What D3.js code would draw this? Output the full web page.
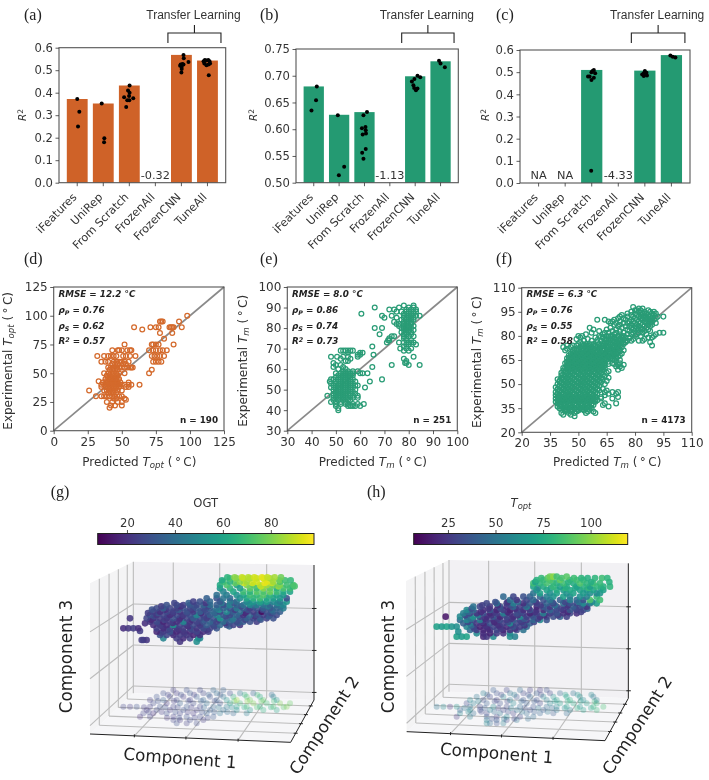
<!DOCTYPE html>
<html><head><meta charset="utf-8"><style>
html,body{margin:0;padding:0;background:#fff}
svg{display:block;filter:blur(.35px)}
text{font-family:"DejaVu Sans",sans-serif;fill:#333}
</style><script src="https://cdn.jsdelivr.net/npm/d3@7"></script></head><body><svg id="c" width="709" height="780"></svg>
<script>
const categories=["iFeatures","UniRep","From Scratch","FrozenAll","FrozenCNN","TuneAll"];
const barsA=[.372,.352,.432,null,.568,.543], barsB=[.68,.627,.632,null,.699,.727], barsC=[null,null,.51,null,.507,.577];
const ticksA=[0,.1,.2,.3,.4,.5,.6], ticksB=[.5,.55,.6,.65,.7,.75];
// [category, jitter in band steps, R2]
const dotsA=[[0,0,.372],[0,.08,.315],[0,.03,.25],[1,-.06,.352],[1,.04,.198],[1,.03,.18],[2,.01,.432],[2,-.05,.41],[2,.01,.40],[2,-.01,.385],[2,-.2,.38],[2,.15,.375],[2,-.08,.367],[2,0,.367],[2,-.12,.336],
[4,.08,.568],[4,.09,.553],[4,.27,.537],[4,.04,.528],[4,-.05,.52],[4,.08,.525],[4,.01,.515],[4,.01,.505],[4,0,.49],[4,-.03,.525],
[5,-.15,.54],[5,-.1,.545],[5,-.05,.543],[5,.03,.545],[5,.08,.54],[5,-.12,.53],[5,-.04,.522],[5,.04,.525],[5,.1,.53],[5,.05,.478]];
const dotsB=[[0,.12,.68],[0,.09,.654],[0,-.09,.635],[1,-.05,.626],[1,.2,.53],[1,-.01,.514],[2,.1,.632],[2,-.04,.626],[2,.04,.604],[2,-.1,.602],[2,.05,.598],[2,.06,.592],[2,-.07,.59],[2,.05,.563],[2,-.09,.556],[2,-.04,.545],
[4,.09,.70],[4,.2,.697],[4,-.03,.694],[4,-.13,.689],[4,-.07,.682],[4,-.04,.677],[4,.09,.676],[4,.03,.673],[5,-.06,.728],[5,0,.723],[5,.17,.716]];
const dotsC=[[2,.08,.51],[2,-.01,.50],[2,.13,.495],[2,.03,.505],[2,-.14,.48],[2,-.08,.48],[2,.08,.475],[2,-.01,.465],[2,-.02,.055],
[4,0,.505],[4,-.04,.495],[4,-.1,.49],[4,.03,.49],[4,.08,.485],[4,-.04,.483],[4,.06,.497],[5,-.04,.575],[5,.05,.57],[5,.15,.566]];
// Scatter rows: [experimental, [predicted...]]
const rowsD=[[100,[98]],[95,[78,79,80,92]],[90,[59,71,75,77,85,86,87,88,94]],[88,[65]],[85,[78,87]],[80,[81]],[75,[52,72,73,75,77,88]],[70,[43,47,48,50,54,56,57,70,73,75,78,80,83]],[65,[32,37,40,42,44,46,51,53,56,60,72,74,76,78,81]],[60,[35,38,40,44,46,48,50,52,55,73,75,77,79]],[58,[43,45,47,51,53]],[55,[40,42,44,46,48,50,52,54,56,57,58]],[53,[72,41,43,45,47]],[50,[37,40,42,44,46,48,52,70]],[48,[39,41,43,45,47]],[45,[38,40,41,42,43,44,45,46,47,48]],[43,[33,38,40,42,44,46]],[42,[36,39,41,43,45,47,49,55]],[40,[35,37,39,40,41,42,43,44,45,46,47,48,50,52,55,57,63]],[38,[35,38,40,42,44,46,48,53,55]],[35,[26,37,39,41,43,45,47,50]],[33,[40,42,44,46]],[30,[31,35,37,39,41,43,45,48,50]],[28,[52,44,46]],[27,[53]],[25,[39,43,47,50]],[22,[42,45,50]],[20,[41]]];
const rowsE=[[91,[78,82]],[90,[66,76,80,82]],[89,[72,74,79,81,83]],[88,[75,77,79,80,82,83]],[87,[60.5,78,79,81,82]],[86,[69,73,78,80,81,83,84.5]],[85,[70,75,78,79,80,81,82]],[84,[77,79,80,81,82]],[83,[74,78,79,80,81]],[82,[75,76,78,79,81]],[81,[76,78,80,82]],[80,[66,69,77,78,79,80,81]],[79,[78,79,80,82]],[78,[77,79,80,81]],[77,[68,78,79,81]],[76,[73,74,78,80,82]],[75,[72,78,79]],[74,[71.5,72,79,81]],[73,[71,76,78,80,81,82]],[72,[79,80,83]],[71,[65,78]],[70,[76.5,79,81]],[69,[52,53,54,55,56,57,78,80]],[68,[55,60,61]],[67,[59,60,65.5]],[66,[48,50.5,53,55,59,82]],[65,[52,56,78]],[64,[54,55,79]],[63,[49,78.5,79]],[62,[50,52,73,80,84.5]],[61,[49,53,65]],[60,[51,54]],[59,[53,55,57,59]],[58,[50,52,53,54,55,56,57,60,61,63]],[57,[51,53,54,55,57]],[56,[50,52,53,54,55,56]],[55,[48,49,51,52,53,54,55,56,57,69]],[54,[47.5,50,52,53,54,55,56,58,64]],[53,[48,50,51,52,53,54,55,56,57]],[52,[49,50,51,52,53,54,55,56,58,59]],[51,[48,50,51,52,53,54,55,56,57,62]],[50,[49,50,51,52,53,54,55,56,58]],[49,[50,51,52,53,54,55,57]],[48,[49,50,51,52,53,54,55,56,58]],[47,[46.5,49,50,51,52,53,54,56,57,59]],[46,[49,50,52,53,54,55,57,59]],[45,[49,51,53,55,56]],[44,[48,50,52,54]],[43,[50,52,54,55,57,59,61.5]],[42,[50,55,56,57,58,60]],[41,[51]],[40,[51]]];
const rowsF=[[98,[79]],[97,[82,84]],[96,[80,81,83,87]],[95,[78,82,85,88,90]],[94,[76,80,84,86,89,91]],[93,[73,78,81,83,85,87,90]],[92,[72,76,79,82,84,86,88,92,95]],[91,[71,74,80,83,85,87,89,91]],[90,[60,64,69,75,78,81,84,86,88,90]],[89,[66,68,72,77,79,82,85,87,89]],[88,[67,70,74,76,80,83,86,88,91]],[87,[69,72,78,81,84,87,89]],[86,[71,75,77,80,82,85,88]],[85,[56,67,73,78,81,83,86]],[84,[58,65,70,76,79,82,84,87]],[83,[61,68,72,77,80,85,88]],[82,[57,64,66,70,74,79,82,84,93,95]],[81,[54,63,69,72,76,78,81,86,91]],[80,[50,52,61,65,67,71,74,80,83,90]],[79,[51,59,63,69,73,75,77,87,89]],[78,[49,55,65,67,70,72,74,79,85]],[77,[53,57,62,68,71,76,78,82,84]],[76,[51,60,64,66,69,73,75,88]],[75,[50,52,54,56,58,61,67,71,74]],[74,[44,47,49,53,55,59,63,65,69,72,89]],[73,[42,46,51,57,60,62,66,68,70,73]],[72,[44,48,50,52,54,56,58,61,64,67,71]],[71,[43,47,49,53,55,57,59,60,63,65,69,72,74]],
[70,[47,50,53,56,59,62,65,68,71]],[69,[46,49,52,55,58,61,64,67,70,73]],[68,[45,48,51,54,57,60,63,66,69,72]],[67,[47,50,53,56,59,62,65,68,71]],[66,[44,46,49,52,55,58,61,64,67,70]],[65,[45,48,51,54,57,60,63,69,72]],[64,[44,47,50,53,56,59,62,66,70]],[63,[43,46,49,52,55,58,61,64,68,72]],[62,[45,48,51,54,57,60,63,71,74]],[61,[44,47,50,53,56,59,62,70,72]],[60,[42,43,46,49,52,55,58,61,64,73]],[59,[45,48,51,54,57,60,63,71]],[58,[43,46,49,52,55,58,61,66]],[57,[41,44,47,50,53,56,59,62,65]],[56,[42,45,48,51,54,57,60,63]],[55,[43,46,49,52,55,58,61,64]],[54,[41,44,47,50,53,56,59,62,66]],[53,[39,42,45,48,51,54,57,60,63]],[52,[40,43,46,49,52,55,58,61,65]],[51,[41,44,47,50,53,56,59,62]],[50,[39,42,45,48,51,54,57,60,64]],[49,[40,43,46,49,52,55,58,61]],[48,[38,41,44,47,50,53,56,59]],[47,[39,42,45,48,51,54,57,60,63]],[46,[40,43,46,49,52,55,58,61,65]],[45,[38,41,44,47,50,53,56,59,64,68,71]],[44,[39,42,45,48,51,54,57,60,66,70]],[43,[38,40,43,46,49,52,55,58,64]],[42,[39,41,44,47,50,53,56,59,62,71]],[41,[38,40,43,46,49,52,55,58,62,68]],[40,[39,42,45,48,51,54,57,60]],[39,[38,41,44,47,50,53,56,59]],[38,[39,42,45,48,51,54,57,64,70]],[37,[40,43,46,49,52,55,58,63]],[36,[39,41,44,47,50,53,56,66]],[35,[40,42,45,48,51,54,57]],[34,[41,44,47,50,53,56]],[33,[43,46,49,55,58]],[32,[41,45,48,54,59]],[31,[42,46]],[30,[48]]];
const rowsFdense=[[79.5,[62,66,68,71,73]],[77.5,[60,64,66,69,72,74]],[75.5,[63,65,68,70,72]],[73.5,[52,54,56,58,61,64,67,69,71]],[71.5,[50,52,54,56,58,61,63,66,68,70]],[69.5,[48,51,54,57,60,63,66,69,71]],[68.5,[47,50,53,56,59,62,65,68,70]],[67.5,[46,49,52,55,58,61,64,67,70]],[66.5,[45,48,51,54,57,60,63,66]],[65.5,[47,50,53,56,59,62,65,68]],[64.5,[46,49,52,55,58,61,64]],[63.5,[45,48,51,54,57,60,63]],[62.5,[44,47,50,53,56,59,62,66,69]],[61.5,[46,49,52,55,58,61,64]],[60.5,[45,48,51,54,57,60,63]],[59.5,[44,47,50,53,56,59,62]],[58.5,[42,45,48,51,54,57,60,63]],[57.5,[43,46,49,52,55,58,61]],[56.5,[44,47,50,53,56,59,62]],[55.5,[41,45,48,51,54,57,60]],[54.5,[43,46,49,52,55,58,61]],[53.5,[41,44,47,50,53,56,59,62]],[52.5,[42,45,48,51,54,57,60]],[51.5,[40,43,46,49,52,55,58,61]],[50.5,[41,44,47,50,53,56,59]],[49.5,[42,45,48,51,54,57,60]],[48.5,[40,43,46,49,52,55,58]],[47.5,[41,44,47,50,53,56,59]],[46.5,[39,42,45,48,51,54,57,60]],[45.5,[40,43,46,49,52,55,58]],[44.5,[41,44,47,50,53,56,59]],[43.5,[42,45,48,51,54,57]],[42.5,[40,43,46,49,52,55,58]],[41.5,[42,45,48,51,54,57]],[40.5,[41,44,47,50,53,56,59]],[39.5,[40,43,46,49,52,55,58]],[38.5,[41,44,47,50,53,56]],[37.5,[42,45,48,51,54,57]],[36.5,[41,43,46,49,52,55]],[35.5,[42,44,47,50,53,56]],[34.5,[43,46,49,52,55]],[33.5,[44,47,50,53]]];
const statsD=["12.2","0.76","0.62","0.57","190"], statsE=["8.0","0.86","0.74","0.73","251"], statsF=["6.3","0.76","0.55","0.58","4173"];
const ticksD=[0,25,50,75,100,125], ticksE=[30,40,50,60,70,80,90,100], ticksF=[20,35,50,65,80,95,110];
const ticksG=[20,40,60,80], ticksH=[25,50,75,100];
// 3-D embedding, projected view: [component 3, [component 1, colour value, ...]]
const cloudG=[[60.5,[60,72,62,80,64,88,66,86,68,90,70,92,72,85]],[59.5,[58,70,60,65,63,82,65,85,68,92,71,94,73,85,75,72]],[58.5,[57,62,59,72,62,60,65,80,67,75,69,88,71,85,73,78,75,80,77,70,79,72]],[57.5,[57,55,60,66,63,58,66,76,68,70,70,82,72,76,74,66,76,72,78,70]],[56.5,[58,48,61,60,64,70,66,66,68,75,70,72,72,78,74,70,76,62,78,60]],[55.5,[56,40,59,45,62,52,64,60,66,70,68,68,70,74,72,66,74,60,76,55]],[54.5,[53,35,56,30,58,42,60,38,63,52,65,62,67,66,69,70,71,62,73,58,75,56,77,30]],[53.5,[49,25,51,30,54,38,57,32,60,45,62,40,65,50,67,55,69,60,71,58,73,50,75,45,77,55]],[52.5,[41,30,44,28,46,25,48,32,50,28,52,36,54,40,56,34,58,30,60,48,62,36,64,42,66,50,68,46,70,42,72,38,74,40,76,50]],[51.5,[38,28,40,35,42,26,44,24,46,30,48,26,50,32,52,28,54,35,56,42,58,36,60,30,62,45,64,34,66,25,68,30,70,35,72,32,74,36,76,45]],[50.5,[37,24,39,20,41,28,43,25,45,22,47,30,49,24,51,35,53,30,55,38,57,28,59,50,61,35,63,40,65,20,67,24,69.5,10,71,30,73,35,75,34]],[49.5,[36,30,38,22,40,26,42,20,44,28,46,24,48,30,50,50,52,26,54,34,56,48,58,32,60,28,62,36,64,22,66,38,68,28,70,25,72,32,74,28]],[48.5,[35,26,37,20,39,24,41,22,43,30,45,20,47,26,49,34,51,28,53,24,55,30,57,55,59,36,61,44,63,30,65,35,67,28,69,34,71,26,73,30]],[47.5,[36,22,38,28,40,18,42,24,44,20,46,50,48,22,50,26,52,30,54,36,56,26,58,40,60,32,62,28,64,34,66,30,68,24]],[46.5,[37,20,39,24,41,20,43,55,45,26,47,22,49,28,51,24,53,34,55,28,57,38,59,30,61,26,63,22]],[45.5,[38,25,40,20,42,28,44,22,46,24,48,28,50,22,52,28,54,26,56,32]],[44.5,[38,18,40,24,42,30,44,18,46,22,48,20,50,26,52,20,53.5,24]],[43.5,[39,30,41,26,43,20,45,24,47,22,49,18,51,22]],[42.5,[40,48,44,24,46,20,48,26,50.5,55,51,50]],[41.5,[45,22,50,52]],
[48.5,[30,22]],[45.5,[28,20,29.5,22,31,24,32.5,20]],[44.7,[33,24]],[47,[34.5,20]],[42,[34,25,35,22,33.5,24]],
[60.8,[59.2,66,61.4,82,63.6,90,65.5,88,67.3,92,69.6,94,71.2,90,73.4,86,75.3,78]],[59.9,[74.8,78,76.5,70,78.2,68,57.6,62]],[59.1,[61.5,76,64.2,90,66.7,92,70.4,95,72.5,90]],[58.1,[78.8,66,79.4,72,74.5,84,69.3,90]],
[53.1,[43.3,26,47.6,34,52.7,22,57.4,45,61.2,30,65.6,55,69.3,48,74.4,52]],[52.1,[39.4,24,45.2,20,49.3,30,53.5,26,59.1,40,63.3,28,67.2,34,71.4,44,75.2,42]],[51.1,[36.6,30,40.7,20,44.5,35,48.8,22,52.6,28,56.7,52,61.5,24,65.4,30,69.8,26,72.6,40]],[50.1,[35.4,24,38.5,30,42.9,22,47.2,26,51.3,20,55.6,34,60.2,28,64.4,18,68.5,32,72.3,26]],[49.1,[37.2,28,41.3,24,45.6,20,49.7,32,53.4,24,58.8,26,62.7,30,67.4,22,71.5,34]],[48.1,[36.3,18,40.4,26,44.7,22,48.4,20,52.2,34,56.5,24,60.7,40,64.6,26,69.2,30]],[47.1,[38.6,24,42.8,20,46.3,28,50.6,22,54.8,30,58.6,22,62.5,34]],[46.1,[39.7,22,43.4,24,47.5,20,51.4,28,55.3,26,59.8,36]],[45.1,[41.2,24,44.6,20,48.7,26,53.1,22]],[44.1,[39.3,26,42.6,22,46.4,24,50.3,20]]];
const shadowG=[[27,[43,25,47,30,51,28,55,38,58,35]],[26,[40,30,44,24,48,32,52,28,56,40,60,30,63,45,67,38]],[25,[38,30,42,26,46,22,50,34,54,30,58,42,61,66,65,72,69,62,73,50]],[24,[36,24,40,35,44,28,48,24,52,36,56,34,59,55,62,85,66,78,70,75,74,55]],[23,[37,28,41,22,45,35,49,28,53,40,57,30,60,60,63,70,67,80,71,70,75,80,78,76]],[22,[28,26,30,24,32,30,36,24,39,30,43,26,47,32,51,26,55,36,59,45,62,58,65,70,69,66,73,72,77,80]],[21,[35,22,38,28,42,24,46,30,50,25,54,34,58,40,62,52,66,55,70,65,74,60]],[20,[34,26,37,20,41,30,45,26,49,22,53,35,57,42,61,38,65,45]],[19,[33,20,36,25,43,24,47,30,51,28,55,32]],[18,[43,26,45,22,48,28,52,24]],[17,[44,30,47,25,50,28]],
[25.6,[41.4,26,45.3,30,49.2,24,53.6,35,57.1,32,64.4,66,68.2,70,72.5,40]],[23.7,[38.4,30,43.2,24,47.5,30,51.3,34,55.4,28,61.3,74,65.2,82,69.4,76,73.2,70]],[21.8,[34.2,24,40.6,30,44.3,28,48.4,24,52.2,38,56.6,44,60.5,50,64.3,62,68.1,72,72.3,64,76.1,74]],[20.4,[35.6,28,39.5,24,43.6,30,47.3,24,51.6,30,55.3,34,59.2,40]],[18.7,[41.1,22,44.7,30,49.4,26,53.3,28]]];
const cloudH=[[61,[60,95,61,100,62,85,65,90]],[60,[56,78,58,82,60,88,63,92,66,80,68,85,70,82]],[59,[55,85,57,80,59,86,62,78,64,84,67,76,69,88,71,80,73,84,75,82]],[58,[55,70,58,75,61,82,63,70,65,76,68,72,70,78,72,70,74,80,76,78,78,80]],[57,[56,65,59,72,62,76,64,68,66,74,69,70,71,66,73,72,76,70]],[56,[55,50,57,72,60,62,62,70,65,64,67,72,70,68,72,62,74,58,75,65]],[55,[46,45,49,30,52,35,54,40,57,42,59,55,61,64,64,70,66,58,69,62,71,55,74,82]],[54,[48,48,50,25,53,30,55,45,58,35,60,50,63,40,66,55,68,45,70,35,72,88,75,84]],[53,[41,30,44,50,47,28,49,55,52,22,54,38,56,30,59,42,61,30,64,48,66,35,68,30,70,62,72,48,74,70]],[52,[37,50,39,30,42,25,45,35,47,22,49,45,51,28,53,55,56,20,58,38,60,26,62,34,65,28,67,40,69,30,71,25]],[51,[35,60,37,45,40,22,42,38,44,20,46,26,48,18,50,30,52,22,54,36,56,24,58,20,60,44,62,32,64,22,66,38,68,26,70,30]],[50,[34,55,36,30,38,24,40,35,42,20,44,28,46,55,48,24,50,34,52,26,54,18,56,30,58,55,60,26,62,36,64,24,66,30,68,22]],[49,[33,60,35,48,37,65,39,26,41,22,43,38,45,20,47,30,49,22,51,60,53,28,55,38,57,24,59,30,61,34,63,42,65,28]],[48,[33,45,35,60,37,30,39,55,41,28,43,22,45,32,47,26,49,40,51,30,53,26,55,44,57,60,59,36]],[47,[34,40,36,55,38,25,40,20,42,36,44,24,46,28,48,60,50,30,52,34,54,40]],[46,[35,58,37,30,39,18,41,22,43,30,45,26,47,22,49,36,51,28,53,45]],[45,[36,45,38,26,40,20,42,24,44,30,46,20,48,24,50,30,52,50]],[44,[38,60,40,22,42,18,44,26,46,24,48,60]],[43,[40,20,41,25,43,60,48,62,49.5,55]],[49,[28.7,14]],[46,[26,70,27.5,68,29,72,30.5,65,32,62]],[44.5,[32.5,62]],[43,[32,70,33.5,68,35,72]],
[60.6,[57.4,82,59.3,90,63.5,86,67.2,84,69.4,80,71.3,78,73.5,80,75.6,84,77.2,80]],[59.4,[55.6,70,60.8,82,65.5,78,72.4,76,77.8,78]],[57.6,[56.4,60,60.3,72,64.5,80,67.6,74,71.6,82,75.3,70]],[53.4,[43.6,35,47.3,24,50.4,45,55.7,26,60.6,38,64.5,30,68.7,52,72.6,60]],[52.4,[39.7,28,44.3,22,48.3,34,52.6,40,57.2,26,61.4,48,65.3,24,69.6,38]],[51.4,[36.5,35,41.6,24,45.2,30,49.6,22,53.7,26,59.2,36,63.3,28,67.6,30,71.2,40]],[50.4,[35.4,45,39.3,22,43.5,26,47.3,20,51.4,32,55.6,24,60.6,30,65.4,20,69.3,28]],[49.4,[34.6,30,38.4,55,42.4,24,46.4,30,50.3,24,54.5,34,58.3,22,62.4,26]],[48.4,[36.3,50,40.6,22,44.4,26,48.5,24,52.3,38,56.4,28]],[47.4,[35.4,30,39.6,26,43.3,20,47.4,34,51.5,26,55.2,30]],[46.4,[36.4,45,40.5,24,44.6,22,48.3,28,52.4,24]],[45.4,[37.3,30,41.4,20,45.3,26,49.5,22]]];
const shadowH=[[27,[43,40,47,30,51,45,54,28,57,26,59,35]],[26,[40,55,44,35,48,50,52,30,56,40,60,32,63,45,67,50]],[25,[38,50,42,30,46,60,50,34,54,45,58,60,61,66,65,72,69,62,73,50]],[24,[36,60,40,35,44,28,48,55,52,36,56,34,59,55,62,70,66,78,70,60,74,55]],[23,[35,30,37,55,41,40,45,35,49,60,53,40,57,30,60,60,63,70,67,75,71,70,74,80]],[22,[26,50,28,60,30,25,32,65,36,50,39,30,43,60,47,32,51,45,55,36,59,45,62,58,65,70,69,66,73,80,76,85]],[21,[33,40,36,60,39,35,42,55,46,30,50,50,54,34,58,40,62,52,66,55,70,70,74,82]],[20,[33,60,37,45,41,30,45,50,49,28,53,45,57,42,61,38,65,45]],[19,[32,25,36,55,41,40,44,28,47,60,51,30,55,45]],[18,[41,55,44,40,47,30,50,50]],[17,[41,60,42,45,44,35,46,55]],
[25.6,[41.2,40,45.4,30,49.3,55,53.5,35,57.3,32,64.6,70,68.3,66,72.4,60]],[23.6,[38.5,55,43.4,35,47.2,30,51.4,45,55.3,38,61.4,66,65.3,76,69.2,72,73.4,82]],[21.6,[34.3,50,40.4,40,44.5,30,48.3,55,52.4,35,56.5,50,60.6,45,64.4,62,68.2,78,72.3,70]],[20.5,[35.5,60,39.4,30,43.3,45,47.4,35,51.6,50,55.3,40,59.3,50]],[18.4,[42.6,35,46.2,50,49.3,30,53.4,45]]];
const svg=d3.select("#c");
const ORANGE="#cf6228", GREEN="#249a72";

function rich(t,parts){parts.forEach(p=>{const s=t.append("tspan").text(p[0]);
 if(p[1]&&p[1].includes("i"))s.attr("font-style","italic");
 if(p[1]&&p[1].includes("b"))s.attr("baseline-shift","-25%").attr("font-size","72%");
 if(p[1]&&p[1].includes("p"))s.attr("baseline-shift","40%").attr("font-size","72%");});return t;}
function panelLabel(l,x,y){svg.append("text").attr("x",x).attr("y",y).text(l).style("font-family","'Liberation Serif',serif").attr("font-size",16).style("fill","#222");}

function barPanel(o){
 const g=svg.append("g");
 const x=d3.scaleBand().domain(categories).range([o.x0,o.x1]).paddingInner(.2).paddingOuter(.3);
 const y=d3.scaleLinear().domain(o.dom).range([o.y1,o.y0]);
 categories.forEach((c,i)=>{if(o.bars[i]===null)return;g.append("rect").attr("x",x(c)).attr("width",x.bandwidth()).attr("y",y(o.bars[i])).attr("height",o.y1-y(o.bars[i])).attr("fill",o.color);});
 g.selectAll("circle").data(o.dots).enter().append("circle")
  .attr("cx",d=>x(categories[d[0]])+x.bandwidth()/2+d[1]*x.step()).attr("cy",d=>y(d[2])).attr("r",2).attr("fill","#000");
 g.append("rect").attr("x",o.x0).attr("y",o.y0).attr("width",o.x1-o.x0).attr("height",o.y1-o.y0).attr("fill","none").attr("stroke","#555").attr("stroke-width",1.1);
 const ay=g.append("g").attr("transform",`translate(${o.x0},0)`).call(d3.axisLeft(y).tickValues(o.ticks).tickFormat(d3.format(o.fmt)).tickSize(3.5).tickPadding(2.5));
 const ax=g.append("g").attr("transform",`translate(0,${o.y1})`).call(d3.axisBottom(x).tickSize(3.5));
 [ay,ax].forEach(a=>{a.select(".domain").remove();a.selectAll("line").attr("stroke","#333").attr("stroke-width",.8);});
 ay.selectAll("text").attr("font-size",11.6).attr("fill","#333");
 ax.selectAll("text").attr("font-size",11.2).attr("fill","#333").attr("text-anchor","end").attr("transform","translate(-8.5,6.5) rotate(-45)").attr("dy",".5em");
 rich(g.append("text").attr("transform",`translate(${o.labX},115) rotate(-90)`).attr("text-anchor","middle").attr("font-size",10.5),[["R","i"],["2","p"]]);
 o.notes.forEach(n=>g.append("text").attr("x",x(categories[n[0]])+x.bandwidth()/2).attr("y",o.y1-4).attr("text-anchor","middle").attr("font-size",11.3).text(n[1]));
 const br=[x(categories[4])+x.bandwidth()/2-13.5, x(categories[5])+x.bandwidth()/2+13.5];
 const mid=(br[0]+br[1])/2;
 g.append("path").attr("d",d3.line()([[br[0],43],[br[0],33],[br[1],33],[br[1],43]])).attr("fill","none").attr("stroke","#222").attr("stroke-width",1.1);
 g.append("path").attr("d",d3.line()([[mid,33],[mid,25]])).attr("stroke","#222").attr("stroke-width",1.1);
 g.append("text").attr("x",mid-1).attr("y",19).attr("text-anchor","middle").style("font-family","'Liberation Sans',sans-serif").attr("font-size",12).text("Transfer Learning");
}
barPanel({x0:59,x1:225.7,y0:47.7,y1:182.7,dom:[0,.6],ticks:ticksA,fmt:".1f",bars:barsA,dots:dotsA,color:ORANGE,labX:26,notes:[[3,"-0.32"]]});
barPanel({x0:296,x1:458.3,y0:49,y1:182.7,dom:[.5,.75],ticks:ticksB,fmt:".2f",bars:barsB,dots:dotsB,color:GREEN,labX:257,notes:[[3,"-1.13"]]});
barPanel({x0:520,x1:690,y0:50,y1:183,dom:[0,.6],ticks:ticksA,fmt:".1f",bars:barsC,dots:dotsC,color:GREEN,labX:489,notes:[[0,"NA"],[1,"NA"],[3,"-4.33"]]});

function scatterPanel(o){
 const g=svg.append("g");
 const x=d3.scaleLinear().domain(o.dom).range([o.x0,o.x1]);
 const y=d3.scaleLinear().domain(o.dom).range([o.y1,o.y0]);
 g.append("line").attr("x1",x(o.dom[0])).attr("y1",y(o.dom[0])).attr("x2",x(o.dom[1])).attr("y2",y(o.dom[1])).attr("stroke","#8a8a8a").attr("stroke-width",1.7);
 const pts=o.rows.flatMap(r=>r[1].map(v=>[v,r[0]]));
 g.selectAll("circle").data(pts).enter().append("circle").attr("cx",d=>x(d[0])).attr("cy",d=>y(d[1])).attr("r",2.4).attr("fill","none").attr("stroke",o.color).attr("stroke-width",1.25);
 g.append("rect").attr("x",o.x0).attr("y",o.y0).attr("width",o.x1-o.x0).attr("height",o.y1-o.y0).attr("fill","none").attr("stroke","#555").attr("stroke-width",1.1);
 const ay=g.append("g").attr("transform",`translate(${o.x0},0)`).call(d3.axisLeft(y).tickValues(o.ticks).tickSize(3.5).tickPadding(2.5));
 const ax=g.append("g").attr("transform",`translate(0,${o.y1})`).call(d3.axisBottom(x).tickValues(o.ticks).tickSize(3.5).tickPadding(3));
 [ay,ax].forEach(a=>{a.select(".domain").remove();a.selectAll("line").attr("stroke","#333").attr("stroke-width",.8);a.selectAll("text").attr("font-size",12).attr("fill","#333");});
 const sym=o.sym;
 rich(g.append("text").attr("transform",`translate(${o.labX},${(o.y0+o.y1)/2+2}) rotate(-90)`).attr("text-anchor","middle").attr("font-size",12),[["Experimental "],["T","i"],[sym,"ib"],[" (\u2009°\u2009C)"]]);
 rich(g.append("text").attr("x",(o.x0+o.x1)/2+.5).attr("y",465.5).attr("text-anchor","middle").attr("font-size",12),[["Predicted "],["T","i"],[sym,"ib"],[" (\u2009°\u2009C)"]]);
 const tx=o.x0+4.7;
 const ann=(yy,parts)=>rich(g.append("text").attr("x",tx).attr("y",yy).attr("font-size",8.8).attr("font-weight","bold").attr("font-style","italic").style("fill","#222"),parts);
 ann(296.7,[["RMSE = "+o.stats[0]+" °C"]]);
 ann(312.7,[["ρ"],["P","b"],["  = "+o.stats[1]]]);
 ann(328.5,[["ρ"],["S","b"],["  = "+o.stats[2]]]);
 ann(343.7,[["R"],["2","p"],["  = "+o.stats[3]]]);
 g.append("text").attr("x",o.x1-6).attr("y",423).attr("text-anchor","end").attr("font-size",8.8).attr("font-weight","bold").style("fill","#222").text("n = "+o.stats[4]);
}
scatterPanel({x0:53.7,x1:224,y0:287,y1:430.7,dom:[0,125],ticks:ticksD,rows:rowsD,color:"#d46a2c",sym:"opt",stats:statsD,labX:12});
scatterPanel({x0:287.3,x1:457.3,y0:287,y1:430.7,dom:[30,100],ticks:ticksE,rows:rowsE,color:"#2a9c76",sym:"m",stats:statsE,labX:247});
scatterPanel({x0:521.7,x1:691.7,y0:287.7,y1:432.3,dom:[20,110],ticks:ticksF,rows:rowsF.concat(rowsFdense),color:"#2a9c76",sym:"m",stats:statsF,labX:481});

[["(a)",24,20],["(b)",260,20],["(c)",496,20],["(d)",24,264],["(e)",260,264],["(f)",496,264],["(g)",50.7,497],["(h)",367,497]].forEach(d=>panelLabel(...d));

function panel3D(o){
 const g=svg.append("g");
 const P=([a,b])=>[o.ox+a/3,o.oy+b/3];
 const c=o.c, L=(p,q,t)=>[p[0]+(q[0]-p[0])*t,p[1]+(q[1]-p[1])*t];
 const proj=(u,v,w)=>{const b=L(L(c.A,c.B,u),L(c.C,c.D,u),v),t=L(L(c.E,c.F,u),L(c.G,c.H,u),v);return P(L(b,t,w));};
 const line=d3.line();
 const poly=(pts,fill)=>g.append("path").attr("d",line(pts)+"Z").attr("fill",fill);
 poly([proj(0,1,0),proj(1,1,0),proj(1,1,1),proj(0,1,1)],"#f2f1f4");
 poly([proj(0,0,0),proj(0,1,0),proj(0,1,1),proj(0,0,1)],"#f4f4f5");
 poly([proj(0,0,0),proj(1,0,0),proj(1,1,0),proj(0,1,0)],"#f6f6f8");
 const gl=(a,b)=>g.append("path").attr("d",line([a,b])).attr("stroke","#bcbcbc").attr("stroke-width",1.1).attr("fill","none");
 const us=[.221,.478,.738], vs=[.215,.44,.654,.86], ws=[.056,.367,.678];
 us.forEach(u=>{gl(proj(u,0,0),proj(u,1,0));gl(proj(u,1,0),proj(u,1,1));});
 vs.forEach(v=>{gl(proj(0,v,0),proj(1,v,0));gl(proj(0,v,0),proj(0,v,1));});
 ws.forEach(w=>{gl(proj(0,0,w),proj(0,1,w));gl(proj(0,1,w),proj(1,1,w));});
 gl(proj(0,1,0),proj(0,1,1));
 const ax=(a,b)=>g.append("path").attr("d",line([a,b])).attr("stroke","#222").attr("stroke-width",1).attr("fill","none");
 ax(proj(0,0,0),proj(1,0,0));ax(proj(1,0,0),proj(1,1,0));ax(proj(1,1,0),proj(1,1,1));
 ws.forEach(w=>{const p=proj(1,1,w);ax([p[0]-2,p[1]],[p[0]+2.5,p[1]]);});
 us.forEach(u=>{const p=proj(u,0,0);ax([p[0],p[1]-1.5],[p[0],p[1]+1.5]);});
 vs.forEach(v=>{const p=proj(1,v,0);ax([p[0]-2,p[1]],[p[0]+2,p[1]]);});
 // projected points
 const cx=d3.scaleLinear().domain([0,100]).range([o.ox,o.ox+1000/3]);
 const cy=d3.scaleLinear().domain([0,90]).range([o.oy+300,o.oy]);
 const col=d3.scaleSequential(d3.interpolateViridis).domain(o.cdom);
 const expand=rows=>rows.flatMap(r=>d3.range(0,r[1].length,2).map(i=>[r[1][i],r[0],r[1][i+1]])).sort((a,b)=>a[1]-b[1]);
 g.append("g").selectAll("circle").data(expand(o.shadow)).enter().append("circle").attr("cx",d=>cx(d[0])).attr("cy",d=>cy(d[1])).attr("r",3).attr("fill",d=>col(d[2])).attr("opacity",.3);
 g.append("g").selectAll("circle").data(expand(o.cloud)).enter().append("circle").attr("cx",d=>cx(d[0])).attr("cy",d=>cy(d[1])).attr("r",3.3).attr("fill",d=>col(d[2])).attr("opacity",.88);
 // colour bar
 const id="grad"+o.id;
 const grad=svg.append("defs").append("linearGradient").attr("id",id);
 d3.range(0,1.001,.05).forEach(t=>grad.append("stop").attr("offset",t).attr("stop-color",d3.interpolateViridis(t)));
 const bx=d3.scaleLinear().domain(o.cdom).range(o.bar);
 g.append("rect").attr("x",o.bar[0]).attr("y",533.5).attr("width",o.bar[1]-o.bar[0]).attr("height",11).attr("fill",`url(#${id})`).attr("stroke","#222").attr("stroke-width",1);
 const a=g.append("g").attr("transform","translate(0,533.5)").call(d3.axisTop(bx).tickValues(o.ticks).tickSize(3.5).tickPadding(3.5));
 a.select(".domain").remove();a.selectAll("line").attr("stroke","#222").attr("stroke-width",.8);a.selectAll("text").attr("font-size",11.6).attr("fill","#333");
 o.title(g.append("text").attr("x",o.titleX).attr("y",506.5).attr("text-anchor","middle").attr("font-size",11.6));
 const lab=(x,y,r,s)=>g.append("text").attr("transform",`translate(${x},${y}) rotate(${r})`).attr("text-anchor","middle").attr("dominant-baseline","central").attr("font-size",16.8).style("fill","#222").text(s);
 lab(...o.l1,"Component 1");lab(...o.l2,"Component 2");lab(...o.l3,"Component 3");
}
panel3D({id:"g",ox:30,oy:480,cdom:[7.8,98],bar:[97.7,314],ticks:ticksG,cloud:cloudG,shadow:shadowG,titleX:205.7,title:t=>t.text("OGT"),
 c:{A:[180,762],B:[782,787],C:[310,640],D:[852,660],E:[180,310],F:[782,330],G:[310,245],H:[852,255]},
 l1:[180,758,4.5],l2:[324,725,-57],l3:[66,656.5,-90]});
panel3D({id:"h",ox:350,oy:480,cdom:[7,119.5],bar:[413.7,627.7],ticks:ticksH,cloud:cloudH,shadow:shadowH,titleX:521,title:t=>rich(t,[["T","i"],["opt","ib"]]),
 c:{A:[170,755],B:[765,782],C:[297,635],D:[835,655],E:[168,303],F:[765,325],G:[297,240],H:[835,250]},
 l1:[496.7,753,4.5],l2:[637,725,-57],l3:[387.7,656.5,-90]});
</script></body></html>
